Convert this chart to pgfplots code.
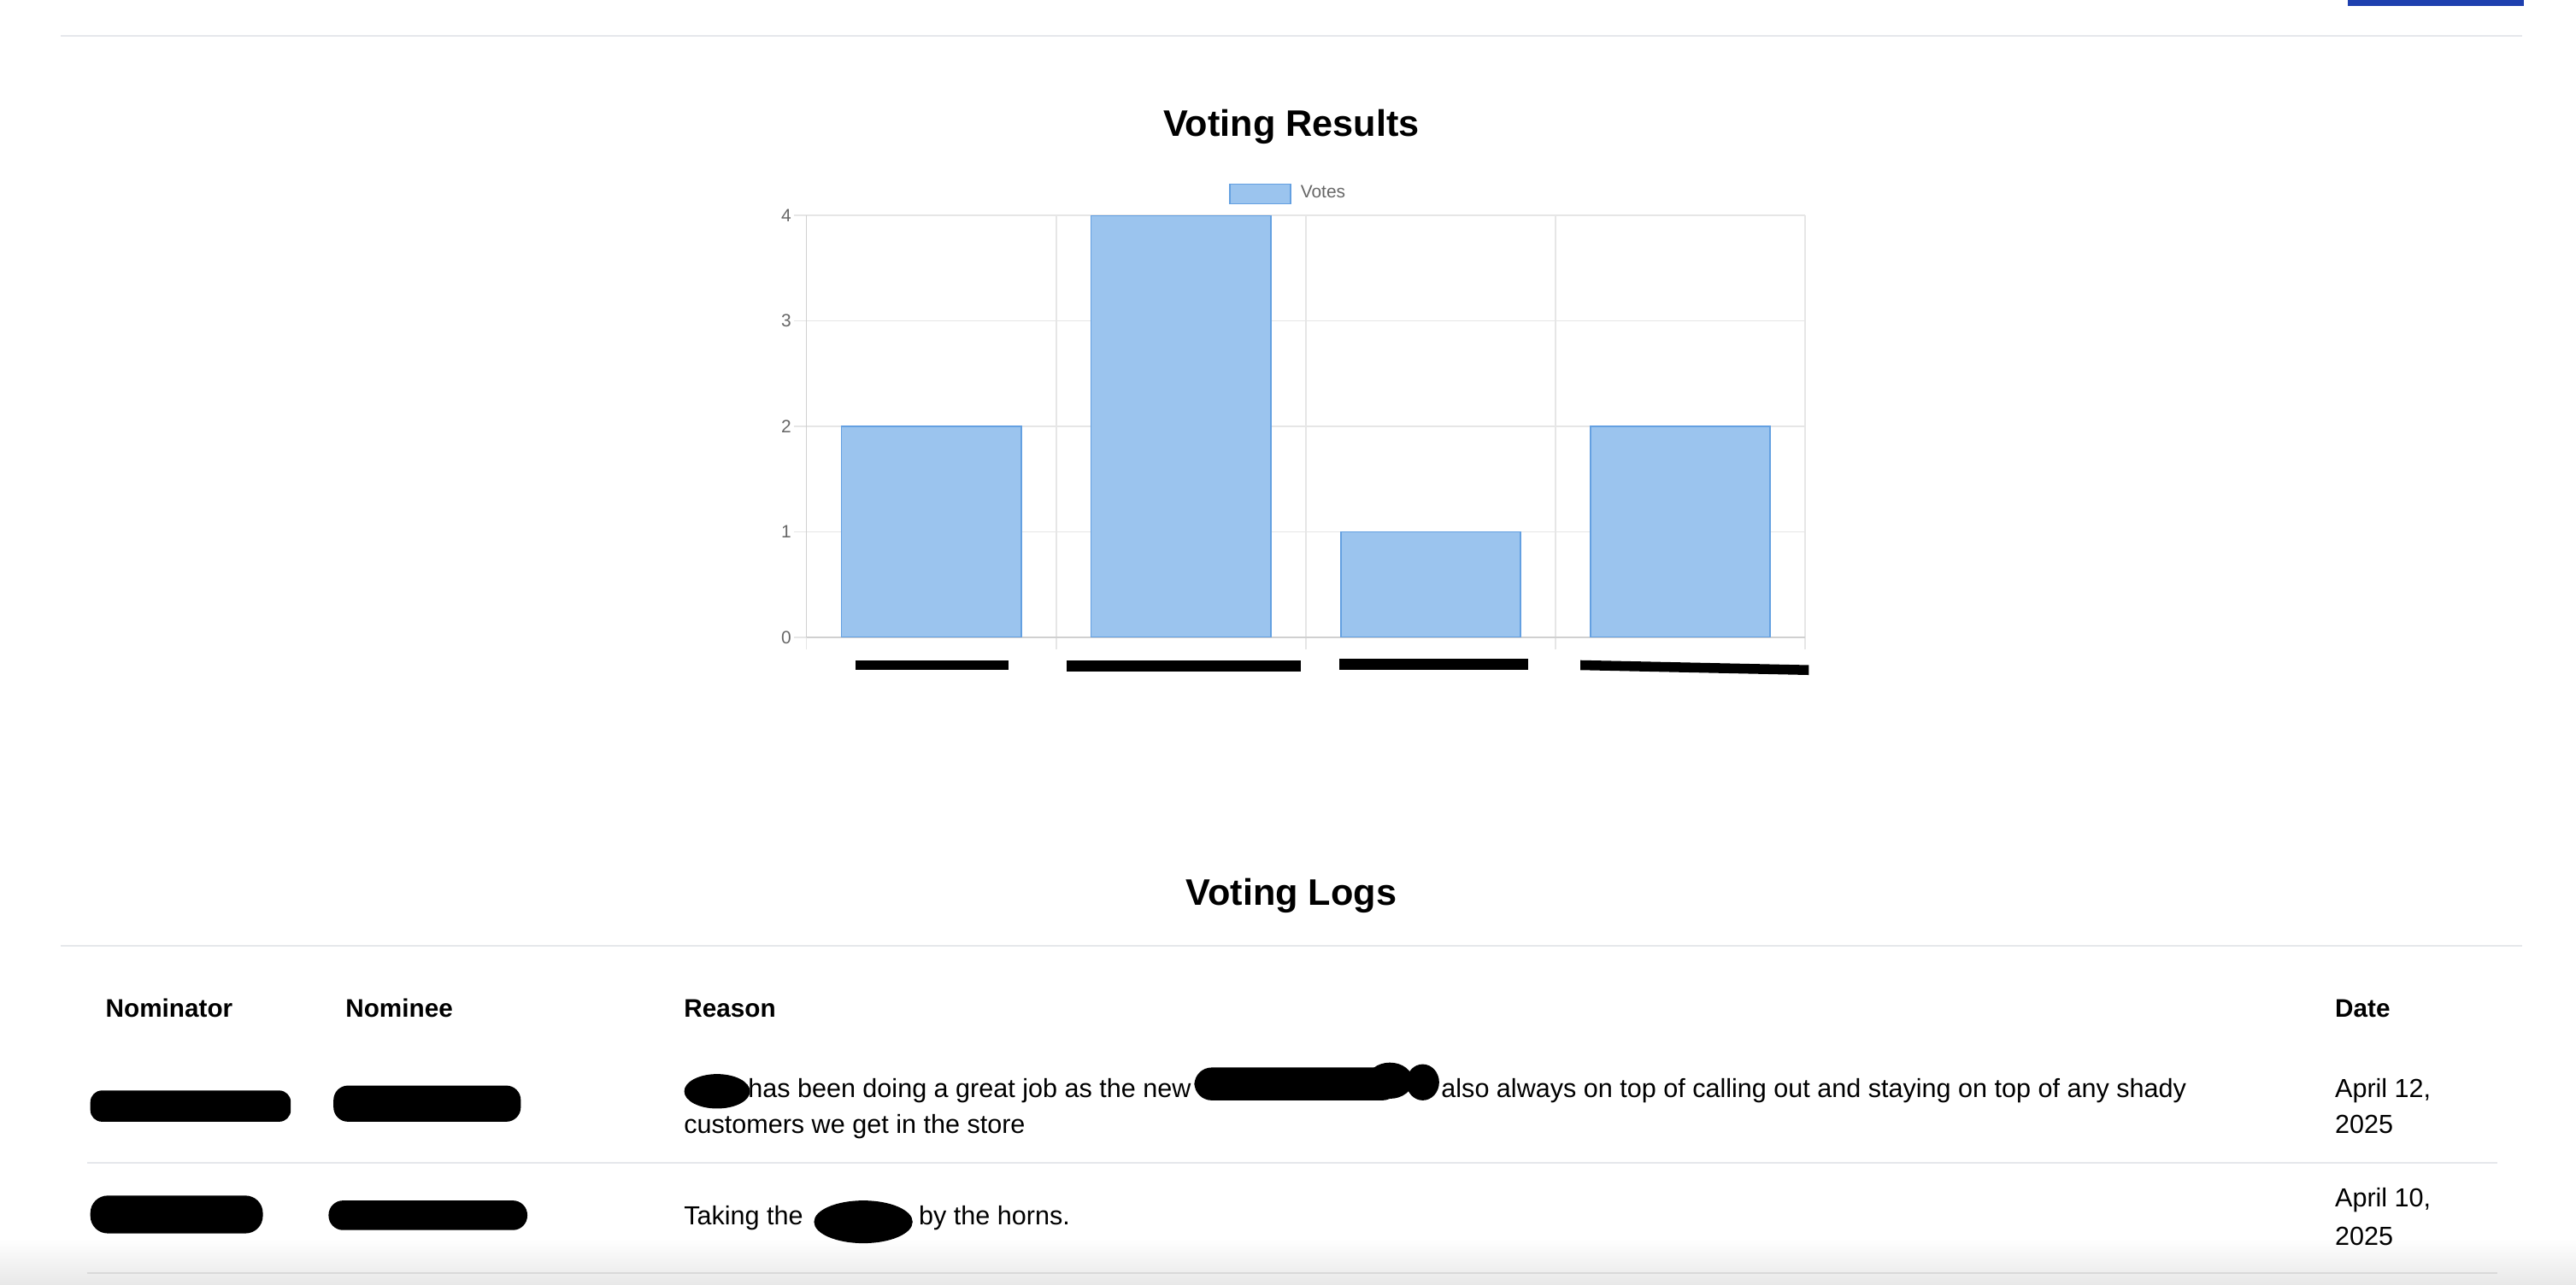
\documentclass[border=0pt]{standalone}
\usepackage{fontspec}
\setmainfont{Liberation Sans}
\usepackage{pgfplots}
\pgfplotsset{compat=1.18}
\definecolor{barfill}{RGB}{155,196,238}
\definecolor{barborder}{RGB}{100,160,225}
\definecolor{gridgray}{RGB}{230,230,230}
\definecolor{axisgray}{RGB}{208,208,208}
\definecolor{tickgray}{RGB}{102,102,102}
\definecolor{sepgray}{RGB}{229,231,235}
\definecolor{topblue}{RGB}{30,64,175}
\begin{document}
\begin{tikzpicture}[x=0.02cm,y=0.02cm]
\path[use as bounding box] (0,0) rectangle (1568,782);
% bottom shadow
\shade[top color=white,bottom color=black!9] (0,0) rectangle (1568,28);
% top bar and rule
\fill[topblue] (1429,782) rectangle (1536,778.5);
\draw[sepgray,line width=0.6pt] (37,760) -- (1535,760);
% title
\node[anchor=base,inner sep=0,font=\fontsize{12.8}{15}\selectfont\bfseries] at (786,699) {Voting Results};

\begin{axis}[
  at={(9.82cm,7.88cm)}, anchor=south west,
  scale only axis, width=12.16cm, height=5.14cm,
  xmin=-0.5, xmax=3.5, ymin=0, ymax=4,
  axis x line*=bottom, axis y line*=left,
  axis line style={axisgray, line width=0.5pt, -},
  xtick={-0.5,0.5,1.5,2.5,3.5}, xticklabels={},
  ytick={0,1,2,3,4},
  grid=major,
  major grid style={gridgray, line width=0.5pt},
  tick align=outside,
  major tick length=0.15cm,
  tick style={gridgray, line width=0.5pt},
  /pgf/number format/assume math mode=true,
  yticklabel style={font=\fontsize{6.2}{7}\selectfont, text=tickgray, inner sep=0pt, xshift=-0.03cm},
  ybar, bar width=0.72,
  legend style={at={(0.4844,1.0506)}, anchor=center, draw=none, fill=none,
    font=\fontsize{6.2}{7}\selectfont, text=tickgray, inner sep=0pt,
    /tikz/every even column/.append style={column sep=0pt}},
  legend image code/.code={\draw[fill=barfill, draw=barborder, line width=0.5pt] (0cm,-0.12cm) rectangle (0.74cm,0.12cm);},
  legend cell align=left,
]
\addplot[fill=barfill, draw=barborder, line width=0.5pt] coordinates {(0,2) (1,4) (2,1) (3,2)};
\addlegendentry{\hspace{0.04cm}Votes}
\end{axis}

% redacted x labels
\fill[black] (521,380) rectangle (614,374);
\fill[black] (649,380) rectangle (792,373);
\fill[black] (815,381) rectangle (930,374);
\fill[black] (962,380) -- (1101,377) -- (1101,371) -- (962,374) -- cycle;

% Voting Logs
\node[anchor=base,inner sep=0,font=\fontsize{12.8}{15}\selectfont\bfseries] at (786,231) {Voting Logs};
\draw[sepgray,line width=0.6pt] (37,206) -- (1535,206);

% table header
\begin{scope}[every node/.style={anchor=base west,inner sep=0,font=\fontsize{8.8}{10}\selectfont\bfseries}]
\node at (64,162.5) {Nominator};
\node at (210,162.5) {Nominee};
\node at (416,162.5) {Reason};
\node at (1421,162.5) {Date};
\end{scope}

% rows
\begin{scope}[every node/.style={anchor=base west,inner sep=0,font=\fontsize{9.05}{11}\selectfont}]
\node at (455,114) {has been doing a great job as the new};
\node at (877,114) {also always on top of calling out and staying on top of any shady};
\node at (416,92) {customers we get in the store};
\node at (1421,114) {April 12,};
\node at (1421,92) {2025};
\node at (416,36) {Taking the};
\node at (559,36) {by the horns.};
\node at (1421,47) {April 10,};
\node at (1421,24) {2025};
\end{scope}
\draw[sepgray,line width=0.6pt] (53,74) -- (1520,74);
\draw[black!15,line width=0.6pt] (53,7) -- (1520,7);

% redactions in table
\fill[black,rounded corners=4pt] (55,99) rectangle (177,118);
\fill[black,rounded corners=5pt] (203,99) rectangle (317,121);
\fill[black] (436.5,117.5) ellipse (20 and 10.5);
\fill[black,rounded corners=6pt] (727,112) rectangle (852,132);
\fill[black] (846,124) ellipse (14 and 11);
\fill[black] (866,123) ellipse (10 and 11);
\fill[black,rounded corners=6pt] (55,31) rectangle (160,54);
\fill[black,rounded corners=5pt] (200,33) rectangle (321,51);
\fill[black] (525.5,38) ellipse (30 and 13);
\end{tikzpicture}
\end{document}
